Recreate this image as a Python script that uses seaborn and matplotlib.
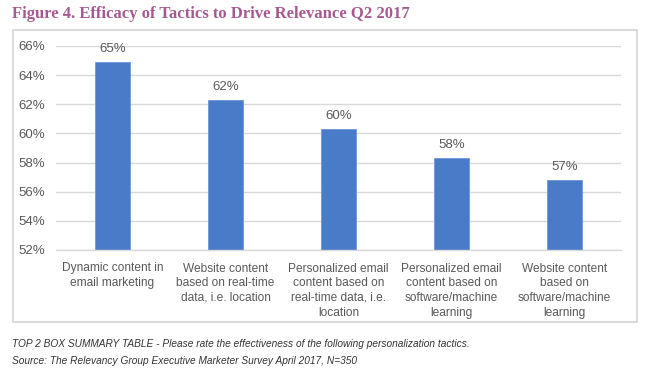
import matplotlib
matplotlib.use("Agg")
import matplotlib.pyplot as plt
import seaborn as sns
import pandas as pd
from matplotlib.patches import Rectangle
from matplotlib.ticker import FuncFormatter

# chart data
tactics = [
    "Dynamic content in\nemail marketing",
    "Website content\nbased on real-time\ndata, i.e. location",
    "Personalized email\ncontent based on\nreal-time data, i.e.\nlocation",
    "Personalized email\ncontent based on\nsoftware/machine\nlearning",
    "Website content\nbased on\nsoftware/machine\nlearning",
]
efficacy = [64.9, 62.3, 60.3, 58.3, 56.8]
value_labels = ["65%", "62%", "60%", "58%", "57%"]
y_ticks = [52, 54, 56, 58, 60, 62, 64, 66]

title = "Figure 4. Efficacy of Tactics to Drive Relevance Q2 2017"
note_1 = "TOP 2 BOX SUMMARY TABLE - Please rate the effectiveness of the following personalization tactics."
note_2 = "Source: The Relevancy Group Executive Marketer Survey April 2017, N=350"

df = pd.DataFrame({"tactic": tactics, "efficacy": efficacy})

sns.set_theme(style="white")
plt.rcParams["font.family"] = ["Liberation Sans", "DejaVu Sans"]

W, H = 650, 383
fig = plt.figure(figsize=(6.5, 3.83), dpi=100)
fig.patch.set_facecolor("white")

# chart frame
fig.patches.append(Rectangle(
    (12.5 / W, 1 - 322 / H), (636.5 - 12.5) / W, (322 - 29.5) / H,
    transform=fig.transFigure, fill=False,
    edgecolor="#d4d4d4", linewidth=1.2
))

ax = fig.add_axes([56 / W, 1 - 250 / H, (621 - 56) / W, (250 - 46) / H])

sns.barplot(
    data=df, x="tactic", y="efficacy",
    color="#4a7bc9", width=0.31, ax=ax,
    saturation=1, edgecolor="#6f95d6", linewidth=0.6
)

ax.set_xlim(-0.5, 4.5)
ax.set_ylim(52, 66)
ax.set_yticks(y_ticks)
ax.yaxis.set_major_formatter(FuncFormatter(lambda v, p: f"{v:.0f}%"))
ax.grid(axis="y", color="#d9d9d9", linewidth=1)
ax.set_axisbelow(True)
for s in ["top", "right", "left"]:
    ax.spines[s].set_visible(False)
ax.spines["bottom"].set_color("#d9d9d9")
ax.spines["bottom"].set_linewidth(1)

ax.set_xlabel("")
ax.set_ylabel("")
ax.tick_params(axis="y", length=0, pad=8, labelsize=9.5, labelcolor="#595959")
ax.tick_params(axis="x", length=0, pad=9, labelsize=8.6, labelcolor="#595959")
for lab in ax.get_xticklabels():
    lab.set_linespacing(1.3)
    lab.set_verticalalignment("top")

for i, (v, t) in enumerate(zip(efficacy, value_labels)):
    ax.annotate(t, (i, v), xytext=(0, 5), textcoords="offset points",
                ha="center", va="bottom", fontsize=9.5, color="#595959")

fig.text(12 / W, 1 - 18.5 / H, title, fontsize=12, fontweight="bold",
         family=["Liberation Serif"], color="#a6598f", ha="left", va="baseline")

fig.text(12 / W, 1 - 347 / H, note_1, fontsize=7.3, style="italic",
         color="#333333", ha="left", va="baseline")
fig.text(12 / W, 1 - 364 / H, note_2, fontsize=7.3, style="italic",
         color="#333333", ha="left", va="baseline")

fig.savefig("out.png", dpi=100)
